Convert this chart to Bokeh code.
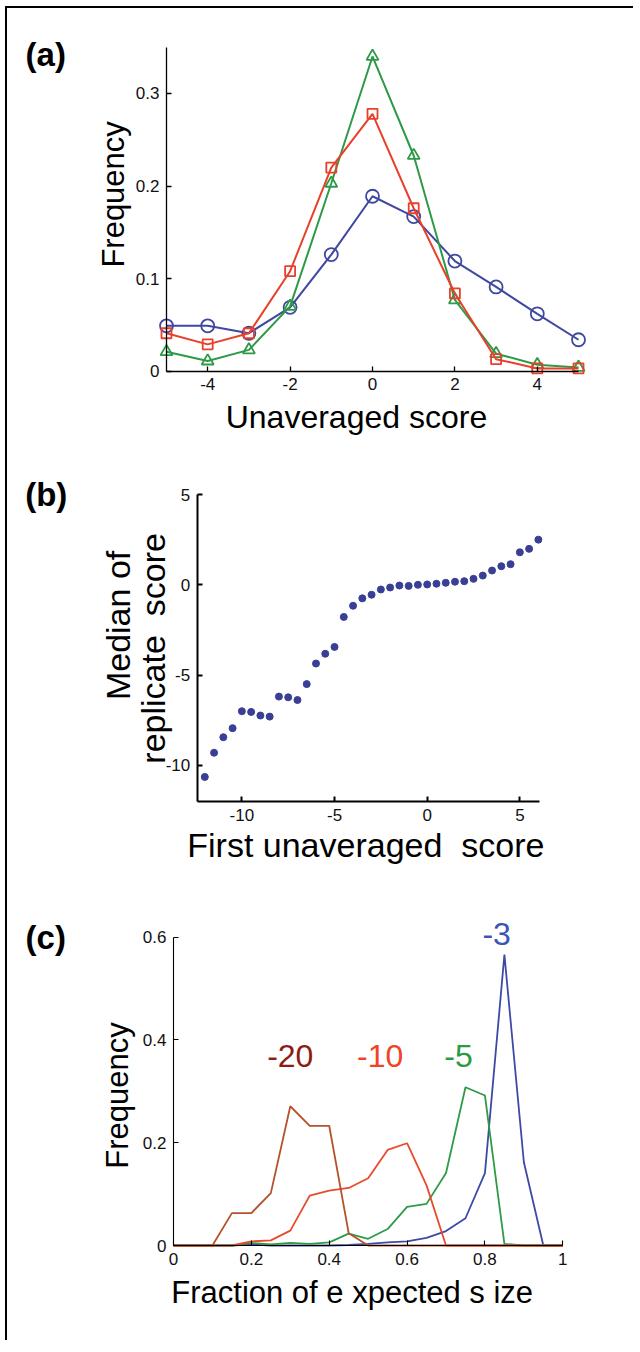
import math
from bokeh.plotting import figure
from bokeh.layouts import column
from bokeh.models import Label, FixedTicker, Range1d
from bokeh.embed import file_html
from bokeh.resources import INLINE

# ---------------- data ----------------
# (a) Unaveraged score distributions
score_a = [-5, -4, -3, -2, -1, 0, 1, 2, 3, 4, 5]
freq_blue = [0.049, 0.049, 0.041, 0.069, 0.126, 0.189, 0.167, 0.119, 0.091, 0.062, 0.034]
freq_red = [0.041, 0.029, 0.041, 0.108, 0.220, 0.278, 0.176, 0.084, 0.013, 0.003, 0.003]
freq_green = [0.021, 0.011, 0.023, 0.070, 0.203, 0.340, 0.233, 0.077, 0.019, 0.007, 0.004]

# (b) Median of replicate score vs first unaveraged score
first_score = [-12, -11.5, -11, -10.5, -10, -9.5, -9, -8.5, -8, -7.5, -7, -6.5, -6,
               -5.5, -5, -4.5, -4, -3.5, -3, -2.5, -2, -1.5, -1, -0.5, 0, 0.5, 1,
               1.5, 2, 2.5, 3, 3.5, 4, 4.5, 5, 5.5, 6]
median_score = [-10.64, -9.30, -8.44, -7.94, -7.00, -7.04, -7.24, -7.30, -6.19, -6.23,
                -6.38, -5.50, -4.36, -3.82, -3.44, -1.78, -1.16, -0.75, -0.55, -0.26,
                -0.15, -0.04, -0.06, 0.00, 0.02, 0.06, 0.11, 0.17, 0.20, 0.33, 0.51,
                0.79, 1.03, 1.14, 1.80, 1.99, 2.50]

# (c) Fraction of expected size
fraction = [0, 0.05, 0.1, 0.15, 0.2, 0.25, 0.3, 0.35, 0.4, 0.45, 0.5, 0.55, 0.6, 0.65,
            0.7, 0.75, 0.8, 0.85, 0.9, 0.95, 1.0]
freq_m3 = [0, 0, 0, 0, 0.002, 0, 0, 0, 0, 0.001, 0.003, 0.006, 0.008, 0.015, 0.028,
           0.053, 0.141, 0.566, 0.162, 0, 0]
freq_m5 = [0, 0, 0, 0, 0.005, 0.002, 0.005, 0.003, 0.006, 0.023, 0.013, 0.032, 0.075,
           0.081, 0.141, 0.308, 0.292, 0.003, 0, 0, 0]
freq_m10 = [0, 0, 0, 0, 0.008, 0.010, 0.029, 0.097, 0.107, 0.112, 0.131, 0.186, 0.199,
            0.117, 0, 0, 0, 0, 0, 0, 0]
freq_m20 = [0, 0, 0, 0.063, 0.063, 0.102, 0.271, 0.233, 0.233, 0.024, 0, 0, 0, 0, 0,
            0, 0, 0, 0, 0, 0]
series_labels = ["-20", "-10", "-5", "-3"]

FONT = "Liberation Sans"
TICK = "17px"
BIG = "31px"
W = 626
NB = "\u00a0"


def make_fig(H, xd, xp, yd, yp, lw):
    """Figure whose frame fills the canvas; data box xd/yd sits at pixel box xp/yp
    (canvas pixels, y measured from the top)."""
    sx = (xd[1] - xd[0]) / (xp[1] - xp[0])
    sy = (yd[1] - yd[0]) / (yp[0] - yp[1])
    xr = Range1d(xd[0] - xp[0] * sx, xd[0] + (W - xp[0]) * sx)
    yr = Range1d(yd[0] - (H - yp[0]) * sy, yd[0] + yp[0] * sy)
    p = figure(width=W, height=H, min_border=0, x_range=xr, y_range=yr,
               output_backend="svg", toolbar_location=None)
    p.xgrid.visible = False
    p.ygrid.visible = False
    p.outline_line_color = None
    p.background_fill_color = "white"
    p.border_fill_color = "white"
    p.xaxis[0].fixed_location = yd[0]
    p.xaxis[0].bounds = xd
    p.yaxis[0].fixed_location = xd[0]
    p.yaxis[0].bounds = yd
    for ax in (p.xaxis[0], p.yaxis[0]):
        ax.axis_line_color = "black"
        ax.axis_line_width = lw
        ax.major_tick_in = 5
        ax.major_tick_out = 0
        ax.major_tick_line_color = "black"
        ax.major_tick_line_width = lw
        ax.minor_tick_line_color = None
        ax.major_label_text_font = FONT
        ax.major_label_text_font_size = TICK
        ax.major_label_text_color = "#111111"
        ax.major_label_standoff = 7
    return p


def lab(p, x, y, text, size=BIG, color="black", angle=0, align="center",
        baseline="middle", bold=False):
    p.add_layout(Label(x=x, y=y, text=text, text_font=FONT, text_font_size=size,
                       text_color=color, angle=angle, text_align=align,
                       text_baseline=baseline,
                       text_font_style="bold" if bold else "normal"))


# ---------------- panel (a) ----------------
pa = make_fig(444, (-5, 5), (159, 571), (0, 0.35), (362.7, 38.7), 1.3)
pa.xaxis[0].ticker = FixedTicker(ticks=[-4, -2, 0, 2, 4])
pa.xaxis[0].major_label_overrides = {-4: "-4", -2: "-2"}
pa.yaxis[0].ticker = FixedTicker(ticks=[0, 0.1, 0.2, 0.3])
pa.yaxis[0].major_label_overrides = {0: "0"}

c_blue, c_red, c_green = "#3f48a0", "#e8402a", "#2e9a48"
pa.line(score_a, freq_blue, line_color=c_blue, line_width=2)
pa.scatter(score_a, freq_blue, marker="circle", size=13, fill_color=None,
           line_color=c_blue, line_width=1.8)
pa.line(score_a, freq_green, line_color=c_green, line_width=2)
pa.scatter(score_a, freq_green, marker="triangle", size=12, fill_color=None,
           line_color=c_green, line_width=1.8)
pa.line(score_a, freq_red, line_color=c_red, line_width=2)
pa.scatter(score_a, freq_red, marker="square", size=10, fill_color=None,
           line_color=c_red, line_width=1.8)

lab(pa, -8.42, 0.362, "(a)", size="33px", align="left", baseline="top", bold=True)
lab(pa, -6.29, 0.191, "Frequency", angle=math.pi / 2)
lab(pa, -0.39, -0.0295, "Unaveraged score", size="32px", baseline="top")

# ---------------- panel (b) ----------------
pb = make_fig(428, (-12.41, 6.06), (189.7, 532), (-12, 5), (349, 42), 2)
pb.xaxis[0].ticker = FixedTicker(ticks=[-10, -5, 0, 5])
pb.xaxis[0].major_label_overrides = {-10: "-10", -5: "-5"}
pb.yaxis[0].ticker = FixedTicker(ticks=[-10, -5, 0, 5])
pb.yaxis[0].major_label_overrides = {-10: "-10", -5: "-5"}
pb.scatter(first_score, median_score, marker="circle", size=7, fill_color="#3a3f96",
           line_color="#3a3f96")

lab(pb, -21.69, 6.05, "(b)", size="33px", align="left", baseline="top", bold=True)
lab(pb, -16.66, -2.25, "Median of", size="34px", angle=math.pi / 2)
lab(pb, -14.77, -3.52, "replicate" + NB + " score", size="34px", angle=math.pi / 2)
lab(pb, -3.31, -13.38, "First unaveraged" + NB + " score", size="34px", baseline="top")

# ---------------- panel (c) ----------------
pc = make_fig(460, (0, 1), (166, 555.3), (0, 0.6), (365, 56.7), 1.1)
pc.xaxis[0].ticker = FixedTicker(ticks=[0, 0.2, 0.4, 0.6, 0.8, 1.0])
pc.xaxis[0].major_label_overrides = {0: "0", 1: "1"}
pc.yaxis[0].ticker = FixedTicker(ticks=[0, 0.2, 0.4, 0.6])
pc.yaxis[0].major_label_overrides = {0: "0"}

pc.line(fraction, freq_m3, line_color="#3d4aa5", line_width=1.8)
pc.line(fraction, freq_m5, line_color="#2f9a48", line_width=1.8)
pc.line(fraction, freq_m10, line_color="#e84a2c", line_width=1.8)
pc.line(fraction, freq_m20, line_color="#b5522b", line_width=1.8)

lab(pc, 0.30, 0.368, series_labels[0], size="32px", color="#8c1c14")
lab(pc, 0.531, 0.368, series_labels[1], size="32px", color="#f04328")
lab(pc, 0.732, 0.368, series_labels[2], size="32px", color="#2a9a45")
lab(pc, 0.83, 0.607, series_labels[3], size="32px", color="#3b55b5")

lab(pc, -0.380, 0.636, "(c)", size="33px", align="left", baseline="top", bold=True)
lab(pc, -0.145, 0.292, "Frequency", angle=math.pi / 2)
lab(pc, 0.459, -0.058, "Fraction of e xpected s ize", baseline="top")

layout = column(pa, pb, pc, spacing=0,
                styles={"margin-left": "5px", "margin-top": "6px",
                        "border-left": "2px solid black", "border-top": "2px solid black"})

open("out.html", "w").write(file_html(layout, INLINE))
